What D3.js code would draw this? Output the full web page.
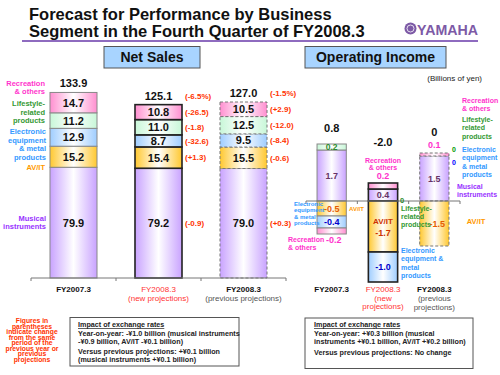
<!DOCTYPE html>
<html>
<head>
<meta charset="utf-8">
<script src="https://cdn.jsdelivr.net/npm/d3@7"></script>
<style>
  body { margin: 0; background: #fff; }
  svg { display: block; font-family: "Liberation Sans", Arial, sans-serif; }
</style>
</head>
<body>
<div id="chart"></div>
<script>
// ---- data ----
const categories = ["FY2007.3", "FY2008.3 new", "FY2008.3 prev"];
const segmentKeys = ["musical", "avit", "electronic", "lifestyle", "recreation"];

// net sales (billions of yen)
const salesMusical    = [79.9, 79.2, 79.0];
const salesAVIT       = [15.2, 15.4, 15.5];
const salesElectronic = [12.9, 8.7, 9.5];
const salesLifestyle  = [11.2, 11.0, 12.5];
const salesRecreation = [14.7, 10.8, 10.5];
const salesTotals     = ["133.9", "125.1", "127.0"];
const salesTotalChange = ["", "(-6.5%)", "(-1.5%)"];
// change labels, same order as segmentKeys
const salesChangeNew  = ["(-0.9)", "(+1.3)", "(-32.6)", "(-1.8)", "(-26.5)"];
const salesChangePrev = ["(+0.3)", "(-0.6)", "(-8.4)", "(-12.0)", "(+2.9)"];

// operating income (billions of yen)
const opMusical    = [1.7, 0.4, 1.5];
const opAVIT       = [-0.5, -1.7, -1.5];
const opElectronic = [-0.4, -1.0, 0];
const opLifestyle  = [0.2, 0, 0];
const opRecreation = [-0.2, 0.2, 0.1];
const opTotals     = ["0.8", "-2.0", "0"];

const segColors = {
  musical: "#c9a3ff", avit: "#ffc830", electronic: "#9fcdff",
  lifestyle: "#c8f7d8", recreation: "#ff8fd0"
};
const segTextColors = {
  musical: "#663366", avit: "#e65c00", electronic: "#0000cc",
  lifestyle: "#2e8b2e", recreation: "#ff33cc"
};
const barStyles = [
  { stroke: "#888", width: 1, dash: null },
  { stroke: "#222", width: 1.6, dash: null },
  { stroke: "#777", width: 1, dash: "3,2" }
];

const salesRows = categories.map((c, i) => ({
  cat: c, musical: salesMusical[i], avit: salesAVIT[i], electronic: salesElectronic[i],
  lifestyle: salesLifestyle[i], recreation: salesRecreation[i]
}));
const opRows = categories.map((c, i) => ({
  cat: c, musical: opMusical[i], avit: opAVIT[i], electronic: opElectronic[i],
  lifestyle: opLifestyle[i], recreation: opRecreation[i]
}));

const svg = d3.select("#chart").append("svg")
  .attr("width", 500).attr("height", 375);

// gradients (colour at edges, white in the middle)
const defs = svg.append("defs");
segmentKeys.forEach(k => {
  const g = defs.append("linearGradient").attr("id", "grad-" + k)
    .attr("x1", "0%").attr("x2", "100%").attr("y1", "0%").attr("y2", "0%");
  g.append("stop").attr("offset", "0%").attr("stop-color", segColors[k]);
  g.append("stop").attr("offset", "50%").attr("stop-color", "#fff");
  g.append("stop").attr("offset", "100%").attr("stop-color", segColors[k]);
});

// ---- title ----
svg.append("text").attr("x", 29).attr("y", 19.5)
  .style("font-size", "16.5px").style("font-weight", "bold").attr("fill", "#111")
  .text("Forecast for Performance by Business");
svg.append("text").attr("x", 29).attr("y", 37)
  .style("font-size", "16.5px").style("font-weight", "bold").attr("fill", "#111")
  .text("Segment in the Fourth Quarter of FY2008.3");
svg.append("line").attr("x1", 22).attr("x2", 478).attr("y1", 41).attr("y2", 41)
  .attr("stroke", "#8e6bbf").attr("stroke-width", 2);

// yamaha logo
svg.append("circle").attr("cx", 410.5).attr("cy", 28.5).attr("r", 6)
  .attr("fill", "#7d5aa6");
svg.append("circle").attr("cx", 410.5).attr("cy", 28.5).attr("r", 3.5)
  .attr("fill", "none").attr("stroke", "#fff").attr("stroke-width", 0.8);
svg.append("text").attr("x", 417).attr("y", 34.5)
  .attr("textLength", 61).attr("lengthAdjust", "spacingAndGlyphs")
  .style("font-size", "15px").style("font-weight", "bold").attr("fill", "#7d5aa6")
  .text("YAMAHA");

// section header boxes
function headerBox(x, w, label) {
  svg.append("rect").attr("x", x).attr("y", 46.5).attr("width", w).attr("height", 21.5)
    .attr("fill", "#a8d4ff").attr("stroke", "#555").attr("stroke-width", 1);
  svg.append("text").attr("x", x + w / 2).attr("y", 62)
    .attr("text-anchor", "middle").style("font-size", "14px").style("font-weight", "bold")
    .attr("fill", "#111").text(label);
}
headerBox(104, 96, "Net Sales");
headerBox(305, 141, "Operating Income");

svg.append("text").attr("x", 482).attr("y", 81).attr("text-anchor", "end")
  .style("font-size", "8px").attr("fill", "#222").text("(Billions of yen)");

// helper for multi-line text
function multiText(lines, x, y, opts) {
  const t = svg.append("text").attr("x", x).attr("y", y)
    .attr("text-anchor", opts.anchor || "start")
    .style("font-size", opts.size + "px").style("font-weight", opts.weight || "bold")
    .attr("fill", opts.color);
  lines.forEach((l, i) => {
    t.append("tspan").attr("x", x).attr("y", y + i * opts.lh).text(l);
  });
  return t;
}

// ================= NET SALES =================
const xS = d3.scaleBand().domain(categories).range([31, 286])
  .paddingInner(0.447).paddingOuter(0.2235);
const yS = d3.scaleLinear().domain([0, 140]).range([278, 84]);

const salesStack = d3.stack().keys(segmentKeys)(salesRows);
const salesG = svg.append("g");

salesStack.forEach((layer, li) => {
  const key = segmentKeys[li];
  layer.forEach((d, ci) => {
    const st = barStyles[ci];
    salesG.append("rect")
      .attr("x", xS(categories[ci])).attr("width", xS.bandwidth())
      .attr("y", yS(d[1])).attr("height", yS(d[0]) - yS(d[1]))
      .attr("fill", "url(#grad-" + key + ")")
      .attr("stroke", st.stroke).attr("stroke-width", st.width)
      .attr("stroke-dasharray", st.dash);
    salesG.append("text")
      .attr("x", xS(categories[ci]) + xS.bandwidth() / 2)
      .attr("y", yS((d[0] + d[1]) / 2))
      .attr("dy", "0.36em").attr("text-anchor", "middle")
      .style("font-size", "11px").style("font-weight", "bold").attr("fill", "#111")
      .text((d[1] - d[0]).toFixed(1));
    // change labels next to bars
    const changes = ci === 1 ? salesChangeNew : ci === 2 ? salesChangePrev : null;
    if (changes) {
      salesG.append("text")
        .attr("x", xS(categories[ci]) + xS.bandwidth() + 3)
        .attr("y", yS((d[0] + d[1]) / 2)).attr("dy", "0.36em")
        .style("font-size", "8px").style("font-weight", "bold").attr("fill", "#ff3300")
        .text(changes[li]);
    }
  });
});

// totals
categories.forEach((c, ci) => {
  const top = d3.sum(segmentKeys, k => salesRows[ci][k]);
  salesG.append("text").attr("x", xS(c) + xS.bandwidth() / 2).attr("y", yS(top) - 5)
    .attr("text-anchor", "middle").style("font-size", "11px").style("font-weight", "bold")
    .attr("fill", "#111").text(salesTotals[ci]);
  salesG.append("text").attr("x", xS(c) + xS.bandwidth() + 3).attr("y", yS(top) - 6)
    .style("font-size", "8px").style("font-weight", "bold").attr("fill", "#ff3300")
    .text(salesTotalChange[ci]);
});

// baseline + ticks
const sTicks = categories.map(c => xS(c) - xS.step() * xS.paddingInner() / 2)
  .concat([xS(categories[2]) + xS.bandwidth() + xS.step() * xS.paddingInner() / 2]);
salesG.append("line").attr("x1", sTicks[0]).attr("x2", sTicks[3])
  .attr("y1", yS(0)).attr("y2", yS(0)).attr("stroke", "#777").attr("stroke-width", 1);
sTicks.forEach(t => salesG.append("line").attr("x1", t).attr("x2", t)
  .attr("y1", yS(0)).attr("y2", yS(0) + 3).attr("stroke", "#777"));

// category labels
const sCx = c => xS(c) + xS.bandwidth() / 2;
multiText(["FY2007.3"], sCx(categories[0]), 292, { anchor: "middle", size: 8, color: "#111", lh: 9 });
multiText(["FY2008.3", "(new projections)"], sCx(categories[1]), 292, { anchor: "middle", size: 8, color: "#ff3333", lh: 9, weight: "normal" });
multiText(["FY2008.3"], sCx(categories[2]), 292, { anchor: "middle", size: 8, color: "#111", lh: 9 });
multiText(["(previous projections)"], sCx(categories[2]), 301, { anchor: "middle", size: 8, color: "#555", lh: 9, weight: "normal" });

// segment legend on the left
multiText(["Recreation", "& others"], 45, 86, { anchor: "end", size: 7.5, color: "#ff33cc", lh: 8.3 });
multiText(["Lifestyle-", "related", "products"], 45, 106, { anchor: "end", size: 7.5, color: "#339933", lh: 8.5 });
multiText(["Electronic", "equipment", "& metal", "products"], 46, 134, { anchor: "end", size: 7.5, color: "#3399ff", lh: 8.5 });
multiText(["AV/IT"], 45, 170, { anchor: "end", size: 7.5, color: "#ff9900", lh: 8.5 });
multiText(["Musical", "instruments"], 46, 221, { anchor: "end", size: 7.5, color: "#9933ff", lh: 8.3 });

// ================= OPERATING INCOME =================
const xO = d3.scaleBand().domain(categories).range([306, 460])
  .paddingInner(0.43).paddingOuter(0.215);
const yO = d3.scaleLinear().domain([-3, 2.5]).range([291, 126]);

const opStack = d3.stack().keys(segmentKeys).offset(d3.stackOffsetDiverging)(opRows);
const opG = svg.append("g");

opStack.forEach((layer, li) => {
  const key = segmentKeys[li];
  layer.forEach((d, ci) => {
    if (d[1] === d[0]) return;
    const st = barStyles[ci];
    opG.append("rect")
      .attr("x", xO(categories[ci])).attr("width", xO.bandwidth())
      .attr("y", yO(d[1])).attr("height", yO(d[0]) - yO(d[1]))
      .attr("fill", "url(#grad-" + key + ")")
      .attr("stroke", st.stroke).attr("stroke-width", st.width)
      .attr("stroke-dasharray", st.dash);
  });
});

// baseline + ticks
const oTicks = categories.map(c => xO(c) - xO.step() * xO.paddingInner() / 2)
  .concat([xO(categories[2]) + xO.bandwidth() + xO.step() * xO.paddingInner() / 2]);
opG.append("line").attr("x1", oTicks[0]).attr("x2", oTicks[3])
  .attr("y1", yO(0)).attr("y2", yO(0)).attr("stroke", "#777").attr("stroke-width", 1);
oTicks.forEach(t => opG.append("line").attr("x1", t).attr("x2", t)
  .attr("y1", yO(0)).attr("y2", yO(0) + 3).attr("stroke", "#777"));

// value labels inside / around op bars
const oCx = c => xO(c) + xO.bandwidth() / 2;
function segMid(li, ci) { const d = opStack[li][ci]; return yO((d[0] + d[1]) / 2); }
function segTop(li, ci) { const d = opStack[li][ci]; return yO(Math.max(d[0], d[1])); }
function segBot(li, ci) { const d = opStack[li][ci]; return yO(Math.min(d[0], d[1])); }
function valText(x, y, txt, color, size) {
  opG.append("text").attr("x", x).attr("y", y).attr("dy", "0.36em")
    .attr("text-anchor", "middle").style("font-size", (size || 9) + "px")
    .style("font-weight", "bold").attr("fill", color).text(txt);
}
const fmt = v => v.toFixed(1);
// FY2007.3
valText(oCx(categories[0]), segMid(3, 0), fmt(opLifestyle[0]), segTextColors.lifestyle, 8.5);
valText(oCx(categories[0]), segMid(0, 0), fmt(opMusical[0]), segTextColors.musical);
valText(oCx(categories[0]), segMid(1, 0), fmt(opAVIT[0]), segTextColors.avit);
valText(oCx(categories[0]), segMid(2, 0), fmt(opElectronic[0]), segTextColors.electronic);
valText(oCx(categories[0]) + 2, segBot(4, 0) + 6, fmt(opRecreation[0]), segTextColors.recreation);
// FY2008.3 new
valText(oCx(categories[1]), segMid(0, 1), fmt(opMusical[1]), segTextColors.musical);
valText(oCx(categories[1]), segTop(4, 1) - 7.5, fmt(opRecreation[1]), segTextColors.recreation);
valText(oCx(categories[1]), segMid(1, 1) - 5, "AV/IT", "#cc3300", 8);
valText(oCx(categories[1]), segMid(1, 1) + 6, fmt(opAVIT[1]), "#cc3300");
valText(oCx(categories[1]), segMid(2, 1), fmt(opElectronic[1]), segTextColors.electronic);
valText(oCx(categories[1]) + 19, yO(0) - 0.5, "0", "#2e8b2e", 7.5);
// FY2008.3 prev
valText(oCx(categories[2]), segMid(0, 2), fmt(opMusical[2]), segTextColors.musical);
valText(oCx(categories[2]) + 3, segMid(1, 2), fmt(opAVIT[2]), "#e65c00");
valText(oCx(categories[2]), segTop(4, 2) - 8, fmt(opRecreation[2]), segTextColors.recreation);

// totals (offset above the bar top so they clear the labels above bars)
const opTotalGap = [12, 37, 17];
categories.forEach((c, ci) => {
  const top = d3.min(segmentKeys, k => segTop(segmentKeys.indexOf(k), ci));
  opG.append("text").attr("x", oCx(c)).attr("y", top - opTotalGap[ci])
    .attr("text-anchor", "middle").style("font-size", "11px").style("font-weight", "bold")
    .attr("fill", "#111").text(opTotals[ci]);
});

// side annotations
multiText(["Electronic", "equipment", "& metal", "products"], 294, 206, { size: 6, color: "#3399ff", lh: 6.3 });
multiText(["AV/IT"], 349, 211, { size: 6, color: "#ff9900", lh: 6 });
multiText(["Recreation", "& others"], 288, 241.5, { size: 7, color: "#ff33cc", lh: 8.5 });
multiText(["Recreation", "& others"], 383, 162.5, { anchor: "middle", size: 7, color: "#ff33cc", lh: 7.8 });
multiText(["Lifestyle-", "related", "products"], 401, 210.5, { size: 7, color: "#339933", lh: 8 });
multiText(["Electronic", "equipment &", "metal", "products"], 401, 253, { size: 7, color: "#3399ff", lh: 8.3 });
multiText(["AV/IT"], 476, 224, { anchor: "middle", size: 7.5, color: "#ff9900", lh: 8 });
multiText(["Recreation", "& others"], 462, 102.5, { size: 7, color: "#ff33cc", lh: 8.3 });
multiText(["Lifestyle-", "related", "products"], 462, 122, { size: 7, color: "#339933", lh: 8.3 });
multiText(["0"], 454, 151.5, { anchor: "middle", size: 7, color: "#009900", lh: 8 });
multiText(["Electronic", "equipment", "& metal", "products"], 462, 151.5, { size: 7, color: "#3399ff", lh: 8.5 });
multiText(["0"], 454, 165, { anchor: "middle", size: 7, color: "#0000ff", lh: 8 });
multiText(["Musical", "instruments"], 457, 189, { size: 7, color: "#9933ff", lh: 8.3 });

// op category labels
multiText(["FY2007.3"], oCx(categories[0]), 292, { anchor: "middle", size: 8, color: "#111", lh: 9 });
multiText(["FY2008.3", "(new", "projections)"], oCx(categories[1]), 292, { anchor: "middle", size: 8, color: "#ff3333", lh: 8.7, weight: "normal" });
multiText(["FY2008.3"], oCx(categories[2]), 292, { anchor: "middle", size: 8, color: "#111", lh: 9 });
multiText(["(previous", "projections)"], oCx(categories[2]), 301, { anchor: "middle", size: 8, color: "#555", lh: 8.7, weight: "normal" });

// ================= NOTES =================
multiText(["Figures in", "parentheses", "indicate change", "from the same", "period of the",
  "previous year or", "previous", "projections"], 32, 323, { anchor: "middle", size: 6.8, color: "#ff3300", lh: 5.5 });

svg.append("rect").attr("x", 70).attr("y", 317.5).attr("width", 169).attr("height", 48.5)
  .attr("fill", "#fff").attr("stroke", "#555");
svg.append("rect").attr("x", 305).attr("y", 318).attr("width", 168).attr("height", 50.5)
  .attr("fill", "#fff").attr("stroke", "#555");

const noteSize = 7.2;
multiText(["Impact of exchange rates"], 78, 327, { size: noteSize, color: "#222", lh: 8 })
  .style("text-decoration", "underline");
multiText(["Year-on-year: -¥1.0 billion (musical instruments", "-¥0.9 billion, AV/IT -¥0.1 billion)"],
  78, 336, { size: noteSize, color: "#222", lh: 8 });
multiText(["Versus previous projections: +¥0.1 billion", "(musical instruments +¥0.1 billion)"],
  78, 354, { size: noteSize, color: "#222", lh: 8 });

multiText(["Impact of exchange rates"], 314, 327, { size: noteSize, color: "#222", lh: 8 })
  .style("text-decoration", "underline");
multiText(["Year-on-year: +¥0.3 billion (musical", "instruments +¥0.1 billion, AV/IT +¥0.2 billion)"],
  314, 336, { size: noteSize, color: "#222", lh: 8.3 });
multiText(["Versus previous projections: No change"], 314, 354.5, { size: noteSize, color: "#222", lh: 8 });
</script>
</body>
</html>
